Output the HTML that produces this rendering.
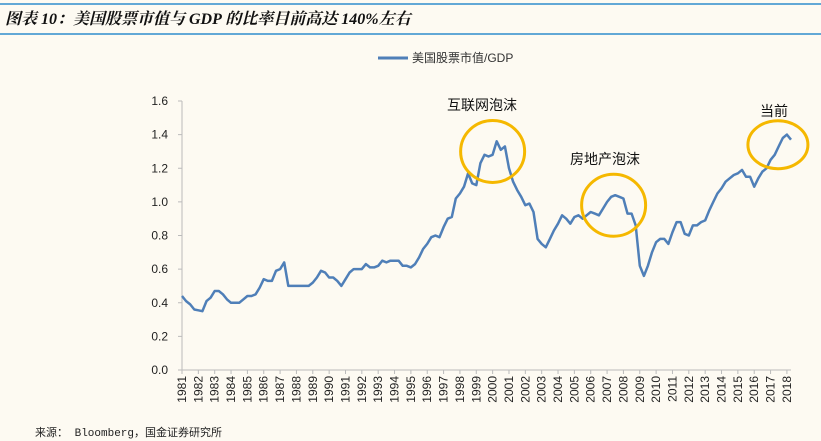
<!DOCTYPE html>
<html><head><meta charset="utf-8"><style>
body{margin:0;background:#fdfaf2;}
svg{display:block;font-family:"Liberation Sans","Noto Sans CJK SC",sans-serif;}
</style></head><body>
<svg width="821" height="441">
<rect width="821" height="441" fill="#fdfaf2"/>
<line x1="0" y1="4" x2="821" y2="4" stroke="#2f8ccc" stroke-width="1.5"/>
<text x="5" y="24" font-family="'Liberation Serif','Noto Serif CJK SC',serif" font-style="italic" font-weight="bold" font-size="16" fill="#111">图表 10：美国股票市值与 GDP 的比率目前高达 140%左右</text>
<line x1="0" y1="34" x2="821" y2="34" stroke="#2f8ccc" stroke-width="1.5"/>
<g>
<line x1="378" y1="58" x2="408" y2="58" stroke="#4f7fb8" stroke-width="3"/>
<text x="412" y="62" font-size="12" fill="#333">美国股票市值/GDP</text>
</g>
<g id="axes"></g>
<path id="series" fill="none" stroke="#4f7fb8" stroke-width="2.5" stroke-linejoin="round"/>
<g id="annot"></g>
<text x="35" y="436" font-family="'Liberation Mono','Noto Sans CJK SC',monospace" font-size="11" fill="#222">来源： Bloomberg，国金证券研究所</text>
</svg>
<script>
const values=[0.44,0.41,0.39,0.36,0.355,0.35,0.41,0.43,0.47,0.47,0.45,0.42,0.40,0.40,0.40,0.42,0.44,0.44,0.45,0.49,0.54,0.53,0.53,0.59,0.60,0.64,0.50,0.50,0.50,0.50,0.50,0.50,0.52,0.55,0.59,0.58,0.55,0.55,0.53,0.50,0.54,0.58,0.60,0.60,0.60,0.63,0.61,0.61,0.62,0.65,0.64,0.65,0.65,0.65,0.62,0.62,0.61,0.63,0.67,0.72,0.75,0.79,0.80,0.79,0.85,0.90,0.91,1.02,1.05,1.09,1.17,1.11,1.10,1.23,1.28,1.27,1.28,1.36,1.31,1.33,1.20,1.12,1.07,1.03,0.98,0.99,0.94,0.78,0.75,0.73,0.78,0.83,0.87,0.92,0.90,0.87,0.91,0.92,0.90,0.92,0.94,0.93,0.92,0.96,1.00,1.03,1.04,1.03,1.02,0.93,0.93,0.86,0.62,0.56,0.62,0.70,0.76,0.78,0.78,0.75,0.82,0.88,0.88,0.81,0.80,0.86,0.86,0.88,0.89,0.95,1.00,1.05,1.08,1.12,1.14,1.16,1.17,1.19,1.15,1.15,1.09,1.14,1.18,1.20,1.25,1.28,1.33,1.38,1.40,1.37];
const yTicks=[0,0.2,0.4,0.6,0.8,1.0,1.2,1.4,1.6];
const years=[];for(let y=1981;y<=2018;y++)years.push(y);
const annotations=[{t:"互联网泡沫",yr:2000.0,v:1.30,rx:32,ry:31,lx:447,ly:110},{t:"房地产泡沫",yr:2007.4,v:0.98,rx:32,ry:31,lx:570,ly:164},{t:"当前",yr:2017.45,v:1.34,rx:30,ry:24,lx:760,ly:116}];
const X0=182,X1=791,Y0=370,Y1=101;
const xs=yr=>X0+(yr-1981)/(2018.25-1981)*(X1-X0);
const ys=v=>Y0-v/1.6*(Y0-Y1);
const NS="http://www.w3.org/2000/svg";
const ax=document.getElementById('axes');
function mk(tag,attrs,parent){const e=document.createElementNS(NS,tag);for(const k in attrs)e.setAttribute(k,attrs[k]);parent.appendChild(e);return e;}
let l=mk('line',{x1:X0,y1:Y1,x2:X0,y2:Y0,stroke:'#bbb'},ax);


l=mk('line',{x1:X0,y1:Y0,x2:X1,y2:Y0,stroke:'#bbb'},ax);


yTicks.forEach(v=>{
 mk('line',{x1:X0-4,y1:ys(v),x2:X0,y2:ys(v),stroke:'#bbb'},ax);
 const t=mk('text',{x:X0-14,y:ys(v)+4,'text-anchor':'end','font-size':12,fill:'#222'},ax);
 t.textContent=v.toFixed(1);
 
 
});
years.forEach(y=>{
 const x=xs(y);
 mk('line',{x1:x,y1:Y0,x2:x,y2:Y0+4,stroke:'#bbb'},ax);
 const t=mk('text',{x:0,y:0,'text-anchor':'end','font-size':12,fill:'#222',transform:`translate(${x+4},${Y0+6}) rotate(-90)`},ax);
 t.textContent=y;
 
 
});
document.getElementById('series').setAttribute('d',values.map((v,i)=>(i?'L':'M')+xs(1981+i/4).toFixed(1)+','+ys(v).toFixed(1)).join(''));
const an=document.getElementById('annot');
annotations.forEach(a=>{
 const e=mk('ellipse',{cx:xs(a.yr),cy:ys(a.v),rx:a.rx,ry:a.ry,fill:'none',stroke:'#f5b800','stroke-width':3},an);
 
 
 const t=mk('text',{x:a.lx,y:a.ly,'font-size':14,fill:'#111'},an);
 t.textContent=a.t;
 
 
});
</script>
</body></html>
